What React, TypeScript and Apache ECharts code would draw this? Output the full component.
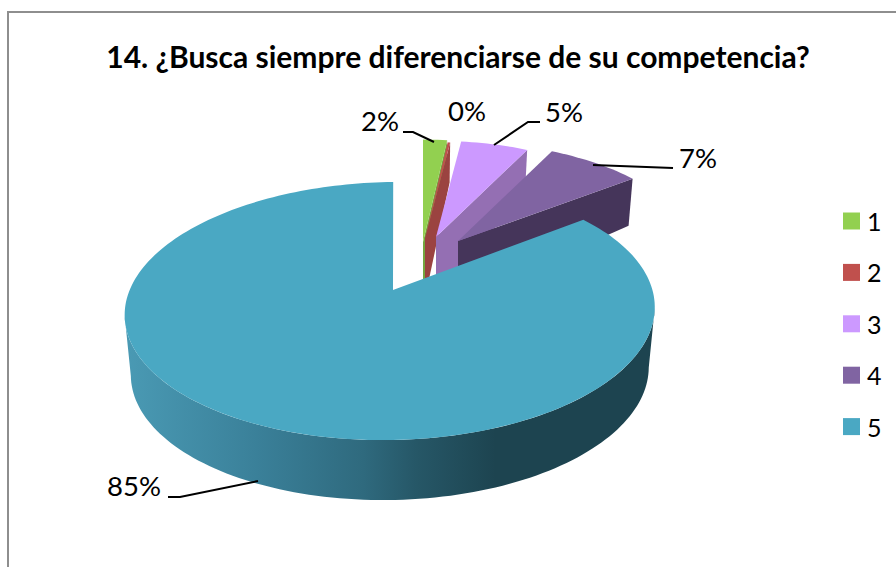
import React, { useEffect, useRef } from "react";
import * as echarts from "echarts";

const TITLE = "14. ¿Busca siempre diferenciarse de su competencia?";
const categories = ["1", "2", "3", "4", "5"];
const values = [1.8, 0.2, 5.4, 7.4, 85];

const topColors = ["#92d050", "#c0504d", "#cc99ff", "#8064a2", "#4aa8c3"];
const cutColors = ["#74a63f", "#9b4340", "#946fb3", "#45355a", "#4aa8c3"];
const FONT = "Lato, 'Open Sans', sans-serif";

// screen position of each slice's tip and its radius factor (exploded slices)
const apexX = [423, 425, 436, 458, 393];
const apexY = [242, 238, 237, 241, 290];
const radius = [0.94, 0.875, 0.875, 0.905, 1];

// the big slice's slight tilt in the view
const shiftX = [0, 0, 0, 0, -2.8];
const tiltX = [0, 0, 0, 0, -3];
const tiltY = [0, 0, 0, 0, -2.5];

// data label placement and leader lines
const labelX = [380, 467, 564, 698, 134];
const labelY = [120, 110, 111, 157, 485];
const leaders: number[][][] = [
  [[403, 132], [413, 132], [434, 142]],
  [],
  [[540, 122], [528, 122], [494, 145]],
  [[673, 168], [593, 165]],
  [[168, 497], [180, 497], [258, 481]],
];

const RX = 261.5;
const RY = 125.6;
const K = 0.163;

const total = values.reduce((a, b) => a + b, 0);

function topPoint(i: number, deg: number) {
  const t = (deg * Math.PI) / 180;
  const u = Math.sin(t) * radius[i];
  const v = -Math.cos(t) * radius[i];
  const w = 1 - K * v;
  return {
    x: apexX[i] + (RX * u) / w + shiftX[i] + tiltX[i] * v,
    y: apexY[i] + (RY * v) / w + tiltY[i] * u,
    v,
  };
}
function lower(i: number, p: { x: number; y: number; v: number }) {
  const d = p.v < 0 ? 59 + 22 * p.v : 60;
  return [apexX[i] + (p.x - apexX[i]) * 0.977, p.y + d];
}
function arc(i: number, from: number, to: number) {
  const out: { x: number; y: number; v: number }[] = [];
  const n = Math.max(2, Math.ceil(Math.abs(to - from) / 1.5));
  for (let j = 0; j <= n; j++) out.push(topPoint(i, from + ((to - from) * j) / n));
  return out;
}
// part of an arc between its rightmost and leftmost points (the visible front)
function frontOf(points: number[][]) {
  let r = 0;
  let l = 0;
  points.forEach((p, j) => {
    if (p[0] > points[r][0]) r = j;
    if (p[0] < points[l][0]) l = j;
  });
  return points.slice(r, l + 1);
}

function makeRenderItem(i: number) {
  return (_params: any, api: any) => {
    const value = api.value(0) as number;
    const before = values.slice(0, i).reduce((a, b) => a + b, 0);
    const start = (before / total) * 360;
    const end = start + (value / total) * 360;
    const children: any[] = [];
    const tip = { x: apexX[i], y: apexY[i], v: 0 };

    if (i === 4) {
      const a = arc(i, 60, 300);
      const upperEdge = frontOf(a.map((p) => [p.x, p.y]));
      const lowerEdge = frontOf(a.map((p) => lower(i, p)));
      const pts = upperEdge.concat(lowerEdge.slice().reverse());
      children.push({
        type: "polygon",
        shape: { points: pts },
        style: {
          fill: new echarts.graphic.LinearGradient(0, 0, 1, 0, [
            { offset: 0, color: "#4a9ab4" },
            { offset: 0.25, color: "#3a8099" },
            { offset: 0.45, color: "#2f6a7e" },
            { offset: 0.55, color: "#265767" },
            { offset: 0.7, color: "#1d4450" },
            { offset: 1, color: "#1d4450" },
          ]),
        },
      });
    } else {
      const outer = topPoint(i, end);
      const lo = lower(i, outer);
      const loTip = lower(i, tip);
      children.push({
        type: "polygon",
        shape: { points: [[outer.x, outer.y], lo, loTip, [tip.x, tip.y]] },
        style: { fill: cutColors[i] },
      });
    }
    const face = arc(i, start, end).map((p) => [p.x, p.y]);
    face.push([tip.x, tip.y]);
    children.push({
      type: "polygon",
      shape: { points: face },
      style: { fill: topColors[i] },
    });
    return { type: "group", children };
  };
}

function labelGraphics() {
  const out: any[] = [];
  values.forEach((v, i) => {
    out.push({
      type: "text",
      x: labelX[i],
      y: labelY[i],
      z: 50,
      style: {
        text: `${Math.round(v)}%`,
        font: `27.5px ${FONT}`,
        fill: "#000",
        align: "center",
        verticalAlign: "middle",
      },
    });
    if (leaders[i].length) {
      out.push({
        type: "polyline",
        z: 50,
        shape: { points: leaders[i] },
        style: { stroke: "#000", lineWidth: 2, fill: "none" },
      });
    }
  });
  return out;
}

export default function App() {
  const ref = useRef<HTMLDivElement>(null);
  useEffect(() => {
    const chart = echarts.init(ref.current!, undefined, { renderer: "svg" });
    chart.setOption({
      animation: false,
      backgroundColor: "#fff",
      color: topColors,
      title: {
        text: TITLE,
        left: 453,
        top: 36,
        textAlign: "center",
        textStyle: { fontFamily: FONT, fontWeight: "bold", fontSize: 30, color: "#000" },
      },
      legend: {
        orient: "vertical",
        left: 838,
        top: 203,
        itemWidth: 17,
        itemHeight: 17,
        itemGap: 25.4,
        icon: "rect",
        data: categories,
        textStyle: {
          fontFamily: FONT,
          fontSize: 25,
          lineHeight: 26,
          color: "#000",
          padding: [0, 0, 0, 2],
        },
        selectedMode: false,
      },
      graphic: [
        {
          type: "polyline",
          z: 0,
          shape: { points: [[8, 567], [8, 12], [896, 12]] },
          style: { stroke: "#8e8e8e", lineWidth: 2, fill: "none" },
        },
        ...labelGraphics(),
      ],
      series: categories.map((name, i) => ({
        type: "custom",
        name,
        coordinateSystem: "none",
        renderItem: makeRenderItem(i),
        data: [[values[i]]],
        itemStyle: { color: topColors[i] },
        z: 2 + i,
        silent: true,
      })),
    });
    return () => chart.dispose();
  }, []);
  return (
    <div
      ref={ref}
      style={{ position: "absolute", left: 0, top: 0, width: 896, height: 567 }}
    />
  );
}
